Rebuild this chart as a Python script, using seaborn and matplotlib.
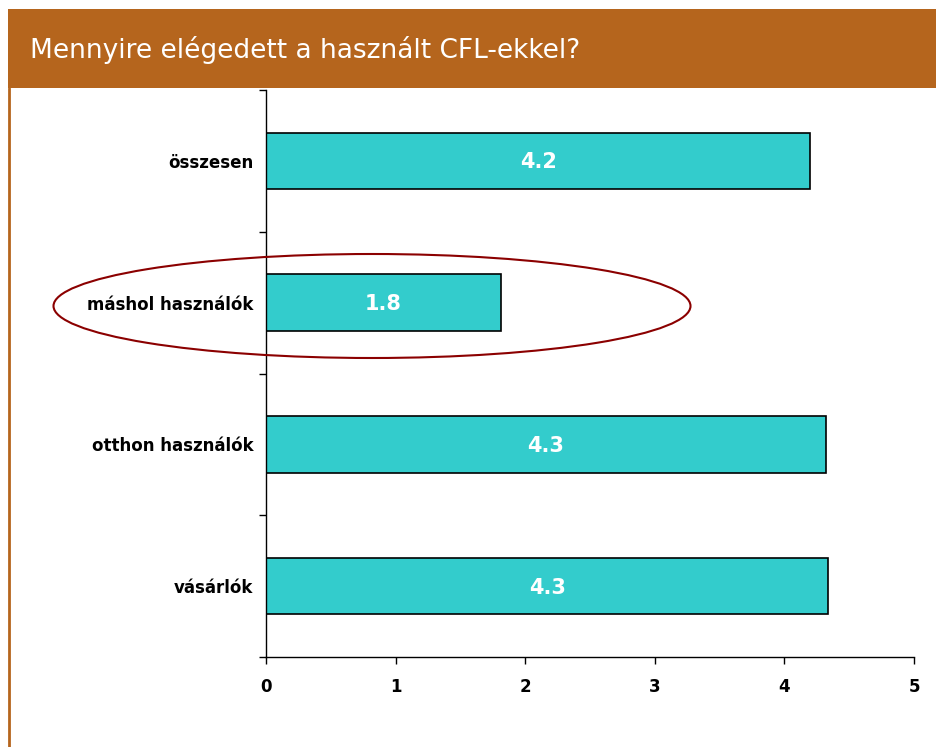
import matplotlib
matplotlib.use('Agg')
import matplotlib.pyplot as plt
from matplotlib.patches import Rectangle, Ellipse
from matplotlib.lines import Line2D
import seaborn as sns
import pandas as pd

categories = ['összesen', 'máshol használók', 'otthon használók', 'vásárlók']
values = [4.2, 1.81, 4.32, 4.34]
title = 'Mennyire elégedett a használt CFL-ekkel?'

sns.set_style('white')
plt.rcParams['font.family'] = ['DejaVu Sans']
plt.rcParams['text.color'] = 'black'
plt.rcParams['xtick.color'] = 'black'
plt.rcParams['ytick.color'] = 'black'

df = pd.DataFrame({'cat': categories, 'val': values})

fig = plt.figure(figsize=(9.37, 7.47), dpi=100)
W, H = 937, 747

# header bar and left border
fig.patches.append(Rectangle((8 / W, 1 - 88 / H), 1, 79 / H, transform=fig.transFigure,
                             facecolor='#B5651D', edgecolor='none', zorder=0))
fig.lines.append(Line2D([9 / W, 9 / W], [0, 1 - 88 / H], transform=fig.transFigure,
                        color='#B5651D', lw=2))
fig.text(30 / W, 1 - 50 / H, title, color='white', fontsize=19, va='center', ha='left')

ax = fig.add_axes([266 / W, 1 - 657 / H, (914 - 266) / W, (657 - 90) / H])
sns.barplot(data=df, y='cat', x='val', orient='h', color='#33CCCC', saturation=1,
            edgecolor='black', linewidth=1.2, width=0.4, ax=ax)

for i, v in enumerate(values):
    ax.text(v / 2, i + 0.01, f'{v:.1f}', color='white', fontsize=15, fontweight='bold',
            ha='center', va='center')

ax.set_xlim(0, 5)
ax.set_ylim(3.5, -0.5)
ax.set_xlabel('')
ax.set_ylabel('')
ax.set_xticks(range(6))
ax.tick_params(axis='x', bottom=True, length=5, width=1, direction='out', labelsize=12, pad=10)
ax.set_yticks([-0.5, 0.5, 1.5, 2.5, 3.5], minor=True)
ax.tick_params(axis='y', which='major', left=True, length=0, labelsize=12, pad=9)
ax.tick_params(axis='y', which='minor', left=True, length=5, width=1, direction='out')
for lab in ax.get_xticklabels() + ax.get_yticklabels():
    lab.set_fontweight('bold')
sns.despine(ax=ax, top=True, right=True)
ax.spines['left'].set_color('black')
ax.spines['bottom'].set_color('black')
ax.spines['left'].set_linewidth(1)
ax.spines['bottom'].set_linewidth(1)

# highlight ellipse
fig.patches.append(Ellipse((372 / W, 1 - 306 / H), 637 / W, 104 / H, transform=fig.transFigure,
                           facecolor='none', edgecolor='#8B0000', lw=1.5, zorder=5))

fig.savefig('out.png', dpi=100)
